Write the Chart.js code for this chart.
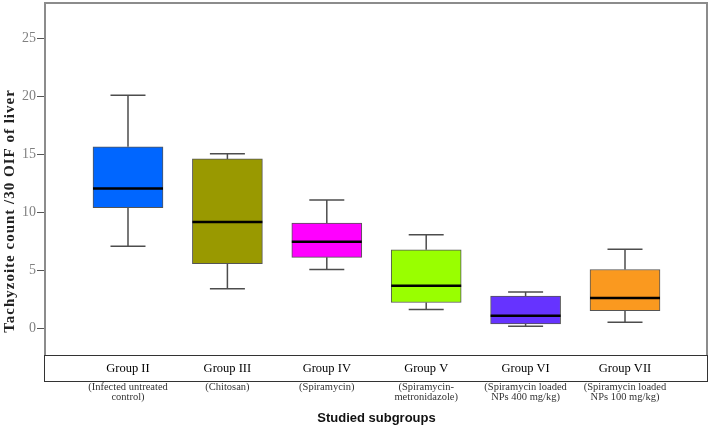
<!DOCTYPE html>
<html>
<head>
<meta charset="utf-8">
<script src="https://cdn.jsdelivr.net/npm/chart.js@4"></script>
<style>
  html, body { margin: 0; padding: 0; background: #fff; }
  #wrap { width: 710px; height: 427px; }
</style>
</head>
<body>
<div id="wrap"><canvas id="boxChart" width="710" height="427"></canvas></div>
<script>
// Tachyzoite count box plot
const groups = ['Group II', 'Group III', 'Group IV', 'Group V', 'Group VI', 'Group VII'];
const subLabels = [
    ['(Infected untreated', 'control)'],
    ['(Chitosan)'],
    ['(Spiramycin)'],
    ['(Spiramycin-', 'metronidazole)'],
    ['(Spiramycin loaded', 'NPs 400 mg/kg)'],
    ['(Spiramycin loaded', 'NPs 100 mg/kg)']
];
const mins    = [7.05, 3.4, 5.05, 1.6, 0.15, 0.5];
const q1s     = [10.4, 5.55, 6.1, 2.2, 0.35, 1.5];
const medians = [12.05, 9.15, 7.45, 3.65, 1.05, 2.6];
const q3s     = [15.65, 14.6, 9.05, 6.75, 2.75, 5.05];
const maxs    = [20.1, 15.05, 11.05, 8.05, 3.1, 6.8];
const yTicks  = [0, 5, 10, 15, 20, 25];
const colors  = ['#0066ff', '#999900', '#ff00ff', '#99ff00', '#6633ff', '#fa991f'];

const serif = "'Liberation Serif', 'DejaVu Serif', serif";

// whiskers, medians, frame and subtitles
const boxPlotExtras = {
    id: 'boxPlotExtras',
    beforeDatasetsDraw(chart) {
        const { ctx, scales: { x, y } } = chart;
        ctx.save();
        ctx.strokeStyle = '#4d4d4d';
        ctx.lineWidth = 1.5;
        groups.forEach((g, i) => {
            const cx = x.getPixelForValue(i);
            ctx.beginPath();
            ctx.moveTo(cx, y.getPixelForValue(q3s[i]));
            ctx.lineTo(cx, y.getPixelForValue(maxs[i]));
            ctx.moveTo(cx - 17.5, y.getPixelForValue(maxs[i]));
            ctx.lineTo(cx + 17.5, y.getPixelForValue(maxs[i]));
            ctx.moveTo(cx, y.getPixelForValue(q1s[i]));
            ctx.lineTo(cx, y.getPixelForValue(mins[i]));
            ctx.moveTo(cx - 17.5, y.getPixelForValue(mins[i]));
            ctx.lineTo(cx + 17.5, y.getPixelForValue(mins[i]));
            ctx.stroke();
        });
        ctx.restore();
    },
    afterDatasetsDraw(chart) {
        const { ctx, chartArea, scales: { x, y } } = chart;
        ctx.save();
        ctx.strokeStyle = '#000';
        ctx.lineWidth = 2.5;
        groups.forEach((g, i) => {
            const cx = x.getPixelForValue(i);
            const my = y.getPixelForValue(medians[i]);
            ctx.beginPath();
            ctx.moveTo(cx - 35, my);
            ctx.lineTo(cx + 35, my);
            ctx.stroke();
        });

        // top and right frame
        ctx.strokeStyle = '#8c8c8c';
        ctx.lineWidth = 2;
        ctx.beginPath();
        ctx.moveTo(chartArea.left, chartArea.top);
        ctx.lineTo(chartArea.right - 1, chartArea.top);
        ctx.lineTo(chartArea.right - 1, chartArea.bottom);
        ctx.stroke();

        // label box under the plot
        ctx.strokeStyle = '#333';
        ctx.lineWidth = 1;
        ctx.strokeRect(chartArea.left - 0.5, chartArea.bottom + 0.5, chartArea.right - chartArea.left, 26);

        // subgroup descriptions
        ctx.fillStyle = '#333';
        ctx.font = '10.5px ' + serif;
        ctx.textAlign = 'center';
        ctx.textBaseline = 'middle';
        subLabels.forEach((lines, i) => {
            const cx = x.getPixelForValue(i);
            lines.forEach((line, j) => {
                ctx.fillText(line, cx, chartArea.bottom + 32 + j * 10);
            });
        });

        // y axis title
        ctx.fillStyle = '#222';
        ctx.font = 'bold 15px ' + serif;
        ctx.letterSpacing = '1px';
        ctx.translate(10, 211);
        ctx.rotate(-Math.PI / 2);
        ctx.fillText('Tachyzoite count /30 OIF of liver', 0, 0);
        ctx.restore();
    }
};

const ctx = document.getElementById('boxChart').getContext('2d');
new Chart(ctx, {
    type: 'bar',
    data: {
        datasets: [{
            label: 'IQR',
            data: groups.map((g, i) => ({ x: i, y: [q1s[i], q3s[i]] })),
            backgroundColor: colors,
            borderColor: '#555',
            borderWidth: 1,
            borderSkipped: false,
            barThickness: 70
        }]
    },
    options: {
        responsive: false,
        animation: false,
        layout: { padding: { top: 3, right: 2, left: 0, bottom: 0 } },
        plugins: {
            legend: { display: false },
            tooltip: { enabled: false }
        },
        scales: {
            x: {
                type: 'linear',
                offset: false,
                min: -0.835,
                max: 5.835,
                afterBuildTicks: axis => { axis.ticks = groups.map((g, i) => ({ value: i })); },
                afterFit: axis => {
                    axis.height = 72;
                    axis.paddingLeft = 0;
                    axis.paddingRight = 0;
                },
                grid: { display: false, drawTicks: false },
                border: { display: false },
                ticks: {
                    autoSkip: false,
                    maxRotation: 0,
                    padding: 6,
                    color: '#000',
                    font: { family: serif, size: 12.5 },
                    callback: value => groups[value]
                },
                title: {
                    display: true,
                    text: 'Studied subgroups',
                    color: '#111',
                    font: { family: "'Liberation Sans', Arial, sans-serif", size: 13, weight: 'bold' },
                    padding: { top: 0, bottom: 1 }
                }
            },
            y: {
                min: -2.33,
                max: 28.06,
                afterBuildTicks: axis => { axis.ticks = yTicks.map(v => ({ value: v })); },
                afterFit: axis => {
                    axis.width = 45;
                    axis.paddingTop = 0;
                    axis.paddingBottom = 0;
                },
                grid: {
                    display: true,
                    drawOnChartArea: false,
                    drawTicks: true,
                    tickLength: 8,
                    color: '#555'
                },
                border: { display: true, color: '#8c8c8c', width: 2 },
                ticks: {
                    padding: 1,
                    color: '#808080',
                    font: { family: serif, size: 14 }
                }
            }
        }
    },
    plugins: [boxPlotExtras]
});
</script>
</body>
</html>
